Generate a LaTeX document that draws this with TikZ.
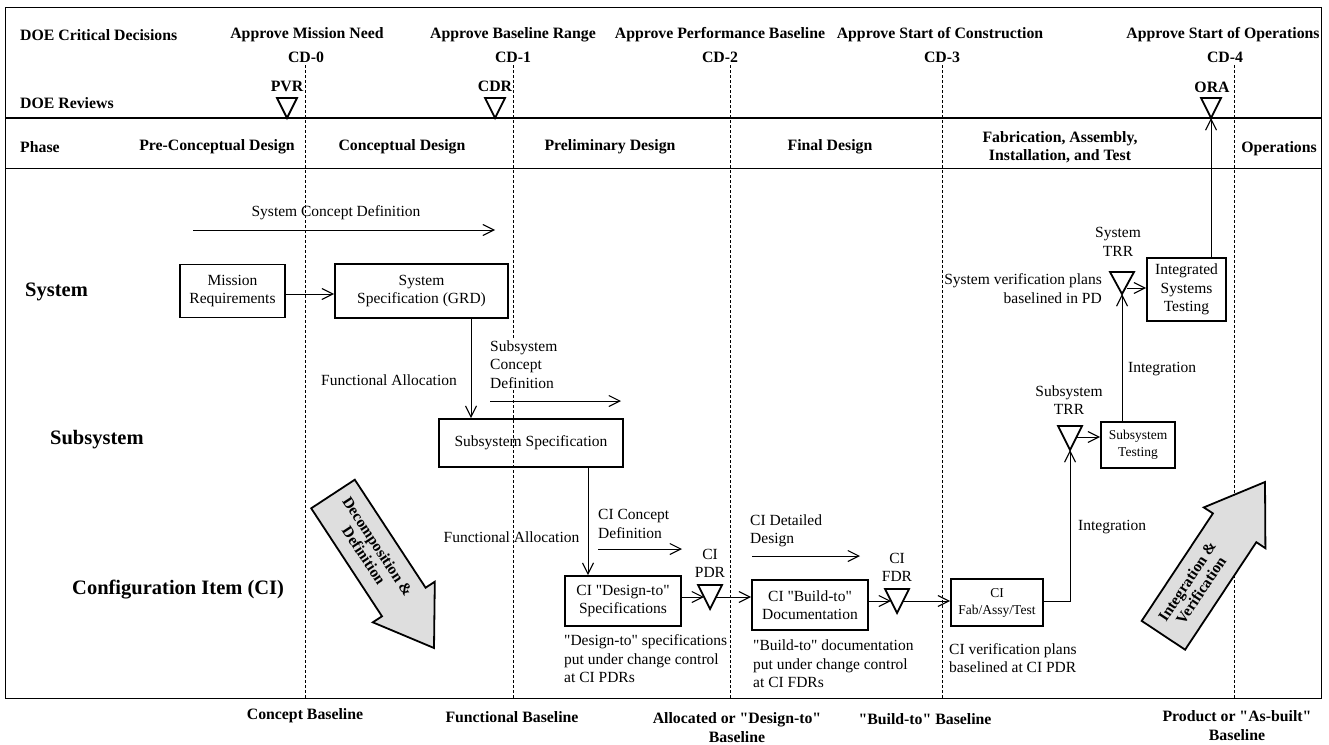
\documentclass[tikz,border=0pt]{standalone}
\usepackage{fontspec}
\setmainfont{Liberation Serif}[Ligatures=TeXOff]
\usetikzlibrary{arrows.meta,calc}
\begin{document}
\begin{tikzpicture}[x=1pt,y=-1pt,
  hdr/.style={font=\bfseries\fontsize{15.8}{19}\selectfont, inner sep=0pt},
  rowlbl/.style={font=\bfseries\fontsize{20.5}{24}\selectfont, inner sep=0pt},
  txt/.style={font=\fontsize{15.5}{18.5}\selectfont, inner sep=0pt},
  box/.style={draw, line width=1.8pt, align=center, inner sep=0pt, font=\fontsize{15.5}{18.5}\selectfont},
  smallbox/.style={box, font=\fontsize{13.5}{17}\selectfont},
  conn/.style={line width=0.9pt, -{Straight Barb[length=11pt,width=11pt,line width=1.1pt]}},
  plain/.style={line width=0.9pt},
  tri/.style={line width=1.8pt, line join=miter},
  cdline/.style={line width=0.8pt, dash pattern=on 3pt off 2pt},
  bigarrow/.style={draw, line width=1.8pt, fill=black!13, line join=miter},
  arrtxt/.style={font=\bfseries\fontsize{15.5}{16.5}\selectfont, align=center, inner sep=0pt},
]
\useasboundingbox (0,0) rectangle (1329,744);

% frame and bands
\draw[line width=1pt] (5,7) rectangle (1321,698);
\draw[line width=2.2pt] (5,118) -- (1321,118);
\draw[line width=1pt] (5,168) -- (1321,168);

% decision lines
\draw[cdline] (305,65) -- (305,698);
\draw[cdline] (513,65) -- (513,698);
\draw[cdline] (730,65) -- (730,698);
\draw[cdline] (942,65) -- (942,698);
\draw[cdline] (1234,65) -- (1234,698);

% header texts
\node[hdr, anchor=west] at (20,35) {DOE Critical Decisions};
\node[hdr] (cd0t) at (307,35) {Approve Mission Need};
\node[hdr] (cd0) at (306,57) {CD-0};
\node[hdr] (cd1t) at (513,35) {Approve Baseline Range};
\node[hdr] (cd1) at (513,57) {CD-1};
\node[hdr] (cd2t) at (720,35) {Approve Performance Baseline};
\node[hdr] (cd2) at (720,57) {CD-2};
\node[hdr] (cd3t) at (940,35) {Approve Start of Construction};
\node[hdr] (cd3) at (942,57) {CD-3};
\node[hdr] (cd4t) at (1223,35) {Approve Start of Operations};
\node[hdr] (cd4) at (1225,57) {CD-4};
\node[hdr, anchor=west] at (20,103) {DOE Reviews};
\node[hdr] (pvrt) at (287,86) {PVR};
\node[hdr] (cdrt) at (495,86) {CDR};
\node[hdr] (orat) at (1212,87) {ORA};

% review triangles
\coordinate (pvr) at (287,98);
\coordinate (cdr) at (495,98);
\coordinate (ora) at (1211,98);
\coordinate (oraB) at (1211,118);
\draw[tri] (pvr) ++(-10,0) -- ++(20,0) -- ++(-10,20) -- cycle;
\draw[tri] (cdr) ++(-10,0) -- ++(20,0) -- ++(-10,20) -- cycle;
\draw[tri] (ora) ++(-10,0) -- ++(20,0) -- ++(-10,20) -- cycle;

% phase row
\node[hdr, anchor=west] at (20,147) {Phase};
\node[hdr] at (217,147) {Pre-Conceptual Design};
\node[hdr] at (402,147) {Conceptual Design};
\node[hdr] at (610,147) {Preliminary Design};
\node[hdr] at (830,147) {Final Design};
\node[hdr, align=center, font=\bfseries\fontsize{15.8}{18}\selectfont] at (1060,147) {Fabrication, Assembly,\\Installation, and Test};
\node[hdr] at (1279,149) {Operations};

% row labels
\node[rowlbl, anchor=west] at (25,292) {System};
\node[rowlbl, anchor=west] at (50,440) {Subsystem};
\node[rowlbl, anchor=west] at (72,590) {Configuration Item (CI)};

% big arrows
\draw[bigarrow] (434,648) -- (372.8,622.3) -- (382.0,616.3) -- (311.2,508.3)
  -- (354.8,479.7) -- (425.6,587.7) -- (434.8,581.7) -- cycle;
\node[arrtxt, rotate=-56.7] at (371,551) {Decomposition \&\\Definition};
\draw[bigarrow] (1265,482) -- (1265.4,548.2) -- (1256.3,542.2) -- (1185.1,649.7)
  -- (1141.7,620.9) -- (1212.9,513.4) -- (1203.8,507.4) -- cycle;
\node[arrtxt, rotate=56.5] at (1194,586) {Integration \&\\Verification};

% boxes
\node[box, minimum width=105pt, minimum height=53pt] (mission) at (232.5,291) {Mission\\Requirements};
\node[box, minimum width=173pt, minimum height=54pt] (sysspec) at (421.5,291) {System\\Specification (GRD)};
\node[box, minimum width=184pt, minimum height=48pt] (subspec) at (531,443) {Subsystem Specification};
\node[box, minimum width=116pt, minimum height=50pt] (cidesign) at (623,601) {CI "Design-to"\\Specifications};
\node[box, minimum width=116pt, minimum height=50pt] (cibuild) at (810,605) {CI "Build-to"\\Documentation};
\node[smallbox, minimum width=92pt, minimum height=47pt] (cifab) at (997,602.5) {CI\\Fab/Assy/Test};
\node[smallbox, minimum width=74pt, minimum height=46pt] (subtest) at (1138,445) {Subsystem\\Testing};
\node[box, minimum width=79pt, minimum height=63pt] (inttest) at (1186.5,289.5) {Integrated\\Systems\\Testing};

% CI and test review triangles
\coordinate (pdr) at (710,585);
\coordinate (pdrL) at (704,597);
\coordinate (pdrR) at (716,597);
\coordinate (fdr) at (897,589);
\coordinate (fdrL) at (891,601);
\coordinate (fdrR) at (903,601);
\coordinate (strr) at (1070,426);
\coordinate (strrB) at (1070,450);
\coordinate (strrR) at (1076.5,437);
\coordinate (systrr) at (1122,272);
\coordinate (systrrB) at (1122,294);
\coordinate (systrrR) at (1127,288);
\draw[tri] (pdr) ++(-12,0) -- ++(24,0) -- ++(-12,24) -- cycle;
\draw[tri] (fdr) ++(-12,0) -- ++(24,0) -- ++(-12,24) -- cycle;
\draw[tri] (strr) ++(-12,0) -- ++(24,0) -- ++(-12,24) -- cycle;
\draw[tri] (systrr) ++(-12,0) -- ++(24,0) -- ++(-12,22) -- cycle;

% concept definition arrows
\coordinate (scdA) at (193,230); \coordinate (scdB) at (495,230);
\coordinate (sucdA) at (490,401); \coordinate (sucdB) at (621,401);
\coordinate (cicdA) at (598,549); \coordinate (cicdB) at (682,549);
\coordinate (ciddA) at (752,556); \coordinate (ciddB) at (860,556);
\draw[conn] (scdA) -- (scdB);
\draw[conn] (sucdA) -- (sucdB);
\draw[conn] (cicdA) -- (cicdB);
\draw[conn] (ciddA) -- (ciddB);

% connectors
\coordinate (fa1) at (471,0);
\coordinate (fa2) at (588,0);
\coordinate (mr) at (0,294);
\draw[conn] (mission.east |- mr) -- (sysspec.west |- mr);
\draw[conn] (sysspec.south -| fa1) -- (subspec.north -| fa1);
\draw[conn] (subspec.south -| fa2) -- (cidesign.north -| fa2);
\draw[conn] (cidesign.east |- pdrL) -- (pdrL);
\draw[conn] (pdrR) -- (cibuild.west |- pdrR);
\draw[conn] (cibuild.east |- fdrL) -- (fdrL);
\draw[conn] (fdrR) -- (cifab.west |- fdrR);
\draw[conn] (cifab.east |- fdrR) -| (strrB);
\draw[conn] (strrR) -- (subtest.west |- strrR);
\draw[conn] (subtest.north -| systrrB) -- (systrrB);
\draw[conn] (systrrR) -- (inttest.west |- systrrR);
\draw[conn] (inttest.north -| oraB) -- (oraB);

% labels
\node[txt] at (336,213) {System Concept Definition};
\node[txt, anchor=east] at (457,380) {Functional Allocation};
\node[txt, align=left, anchor=west, fill=white, inner sep=1pt] at (489,364.5) {Subsystem\\Concept\\Definition};
\node[txt] at (511.5,537) {Functional Allocation};
\node[txt, align=left, anchor=west] at (598,524) {CI Concept\\Definition};
\node[txt, align=center] at (710,563.5) {CI\\PDR};
\node[txt, align=left, anchor=west] at (750,531) {CI Detailed\\Design};
\node[txt, align=center] at (897,567.5) {CI\\FDR};
\node[txt, align=left, anchor=west] at (564,659) {"Design-to" specifications\\put under change control\\at CI PDRs};
\node[txt, align=left, anchor=west] at (753,664) {"Build-to" documentation\\put under change control\\at CI FDRs};
\node[txt, align=left, anchor=west] at (949,658) {CI verification plans\\baselined at CI PDR};
\node[txt, anchor=west] at (1078,527) {Integration};
\node[txt, align=center] at (1069,400) {Subsystem\\TRR};
\node[txt, anchor=west] at (1128,369) {Integration};
\node[txt, align=center] at (1118,242) {System\\TRR};
\node[txt, align=right, anchor=east, fill=white, inner sep=1pt] at (1103,288.5) {System verification plans\\baselined in PD};

% baselines
\node[hdr] at (305,716) {Concept Baseline};
\node[hdr] at (512,717) {Functional Baseline};
\node[hdr, align=center, font=\bfseries\fontsize{15.8}{19}\selectfont] at (737,727.5) {Allocated or "Design-to"\\Baseline};
\node[hdr] at (925,719) {"Build-to" Baseline};
\node[hdr, align=center, font=\bfseries\fontsize{15.8}{19}\selectfont] at (1237,725.5) {Product or "As-built"\\Baseline};
\end{tikzpicture}
\end{document}
